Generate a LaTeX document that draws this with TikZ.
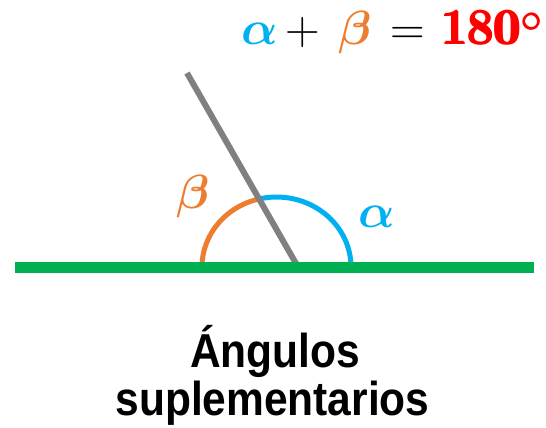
\RequirePackage{fix-cm}
\documentclass[tikz,border=0pt]{standalone}
\usepackage{amsmath,bm}
\usepackage[no-math]{fontspec}
\setmainfont{Liberation Sans}
\definecolor{cblue}{HTML}{00B0F0}
\definecolor{corange}{HTML}{ED7D31}
\definecolor{cgreen}{HTML}{00B050}
\definecolor{cgray}{HTML}{808080}
\definecolor{cred}{HTML}{FF0000}
\tikzset{
  fml/.style={inner sep=0pt, anchor=base west, font=\fontsize{48}{52}\selectfont},
  lbl/.style={inner sep=0pt, anchor=base, font=\fontsize{42.5}{48}\selectfont\bfseries},
  arcline/.style={line width=5pt},
}
\begin{document}
\begin{tikzpicture}[x=1pt,y=-1pt]
\useasboundingbox (0,0) rectangle (546,428);
% formula
\node[fml, text=cblue] (fa) at (241,45) {$\bm{\alpha}$};
\node[fml] (fplus) at (285,45) {$+$};
\node[fml, text=corange] (fb) at (338,45) {$\bm{\beta}$};
\node[fml] (feq) at (390,45) {$=$};
\node[fml, text=cred] (f180) at (442,45) {\scalebox{0.98}[1.06]{$\pmb{\mathbf{180}}$}};
\node[inner sep=0pt, anchor=north west, text=cred, font=\fontsize{42}{46}\selectfont] (fdeg) at ([yshift=-2pt]f180.north east) {$\pmb{\circ}$};
% geometry
\coordinate (C) at (276.5,267);
\coordinate (gtop) at (187,73);
\coordinate (V) at (298,267);
\coordinate (L) at (15,267.5);
\coordinate (R) at (534,267.5);
\draw[arcline, corange] (C) ++(180:74.5 and 70) arc[start angle=180, end angle=257, x radius=74.5, y radius=70];
\draw[arcline, cblue] (C) ++(257:74.5 and 70) arc[start angle=257, end angle=360, x radius=74.5, y radius=70];
\draw[line width=6pt, cgray] (gtop) -- (V);
\draw[line width=11pt, cgreen] (L) -- (R);
% angle labels
\node[fml, text=corange] (lb) at (176,208) {$\bm{\beta}$};
\node[fml, text=cblue] (la) at (358,227) {$\bm{\alpha}$};
% caption
\node[lbl] (t1) at (275,367) {\scalebox{1}[1.12]{Ángulos}};
\node[lbl] (t2) at (272.5,415) {\scalebox{1}[1.12]{suplementarios}};
\end{tikzpicture}
\end{document}
